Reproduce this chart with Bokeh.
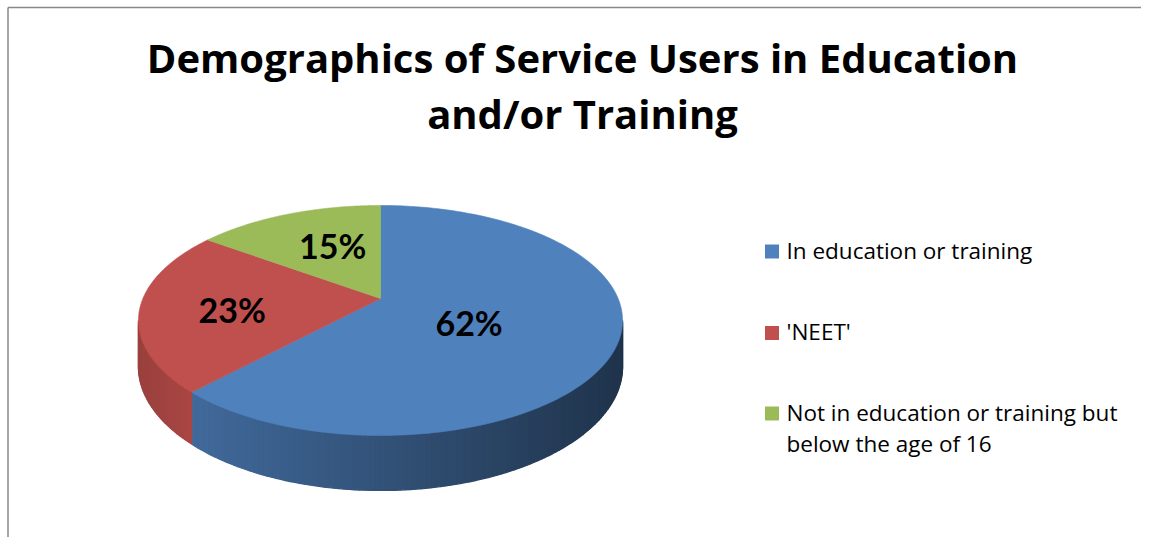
import numpy as np
from bokeh.plotting import figure
from bokeh.models import Range1d
from bokeh.core.properties import value
from bokeh.embed import file_html
from bokeh.resources import INLINE

# ---------------- data ----------------
title_lines = ["Demographics of Service Users in Education", "and/or Training"]
categories = ["In education or training", " 'NEET'",
              "Not in education or training but below the age of 16"]
legend_lines = [["In education or training"], [" 'NEET'"],
                ["Not in education or training but", "below the age of 16"]]
values = [62, 23, 15]
colors = ["#4f81bd", "#c0504d", "#9bbb59"]
labels = [f"{v}%" for v in values]

# ---------------- layout ----------------
W, H = 1141, 537
CX, CY = 380.0, 298.0        # projected pie centre
A, B = 237.6, 110.8          # horizontal / vertical radii
K = 0.191                    # perspective strength
D = 44.5                     # pie thickness
LABEL_R = [0.39, 0.62, 0.48]
LABEL_DY = [8, 4, -9]
TITLE_FONT = "Open Sans"
LEG_FONT = "Open Sans"
LBL_FONT = "Lato"

p = figure(width=W, height=H, x_range=Range1d(0, W), y_range=Range1d(H, 0),
           output_backend="svg", toolbar_location=None, min_border=0,
           x_axis_type=None, y_axis_type=None)
p.grid.visible = False
p.outline_line_color = None
p.background_fill_color = "white"
p.border_fill_color = "white"


def proj(theta, r=1.0):
    u = r * np.sin(theta)
    v = r * np.cos(theta)
    w = 1 + K * v
    return CX + A * u / w, CY - B * v / w


def depth(theta):
    return D / (1 + K * np.cos(theta))


def shade(hexc, f):
    rgb = [int(hexc[i:i + 2], 16) for i in (1, 3, 5)]
    return "#%02x%02x%02x" % tuple(max(0, min(255, int(round(c * f)))) for c in rgb)


total = float(sum(values))
angles = np.cumsum([0] + [v / total * 2 * np.pi for v in values])

# ---- sides (front visible part) ----
vis0 = np.arccos(-K)
vis1 = 2 * np.pi - vis0
x_left = proj(vis1)[0]
x_right = proj(vis0)[0]
sx, sy, sc = [], [], []
for i, col in enumerate(colors):
    a0, a1 = max(angles[i], vis0), min(angles[i + 1], vis1)
    if a1 <= a0:
        continue
    xa, xb = sorted([proj(a0)[0], proj(a1)[0]])
    n = max(2, int(np.degrees(a1 - a0)))
    ts = np.linspace(a0, a1, n + 1)
    for t0, t1 in zip(ts[:-1], ts[1:]):
        x0, y0 = proj(t0)
        x1, y1 = proj(t1)
        xm = (x0 + x1) / 2
        if xa <= x_left + 1:      # slice touching the left edge: slight darkening to the left
            f = 0.80 + 0.08 * (xm - xa) / max(1.0, xb - xa)
        else:                     # light on the left, dark on the right
            f = 0.82 - 0.42 * (xm - xa) / max(1.0, x_right - xa)
        sx.append([x0, x1, x1, x0])
        sy.append([y0, y1, y1 + depth(t1), y0 + depth(t0)])
        sc.append(shade(col, f))
p.patches(sx, sy, fill_color=sc, line_color=sc, line_width=1.3)

# ---- top faces ----
tx, ty = [], []
for i in range(len(values)):
    ts = np.linspace(angles[i], angles[i + 1], 200)
    xs, ys = proj(ts)
    tx.append([CX] + list(xs))
    ty.append([CY] + list(ys))
p.patches(tx, ty, fill_color=colors, line_color=colors, line_width=0.6)

# ---- data labels ----
mids = (angles[:-1] + angles[1:]) / 2
lx, ly = [], []
for m, r, dy in zip(mids, LABEL_R, LABEL_DY):
    x, y = proj(m, r)
    lx.append(x)
    ly.append(y + dy)
p.text(x=lx, y=ly, text=labels, text_font=value(LBL_FONT), text_font_style="bold",
       text_font_size="34px", text_align="center", text_baseline="middle",
       text_color="black")

# ---- title ----
p.text(x=[582, 582], y=[57, 113], text=title_lines, text_font=value(TITLE_FONT),
       text_font_style="bold", text_font_size="40px", text_align="center",
       text_baseline="alphabetic", text_color="black")

# ---- legend ----
sq_y = [251, 332.5, 413]
p.rect(x=[771.5] * 3, y=sq_y, width=14, height=14, fill_color=colors, line_color=None)
lt, ltx, lty = [], [], []
base = [249.5, 330.5, 411.5]
for lines, b in zip(legend_lines, base):
    for j, t in enumerate(lines):
        lt.append(t)
        ltx.append(786)
        lty.append(b + 31 * j)
p.text(x=ltx, y=lty, text=lt, text_font=value(LEG_FONT), text_font_size="22.5px",
       text_align="left", text_baseline="alphabetic", text_color="black")

# ---- chart-area border (left and top edges visible) ----
p.segment(x0=[7.5, 7.5], y0=[7, 7], x1=[7.5, W], y1=[H, 7],
          line_color="#898989", line_width=1.5)

open("out.html", "w").write(file_html(p, INLINE))
